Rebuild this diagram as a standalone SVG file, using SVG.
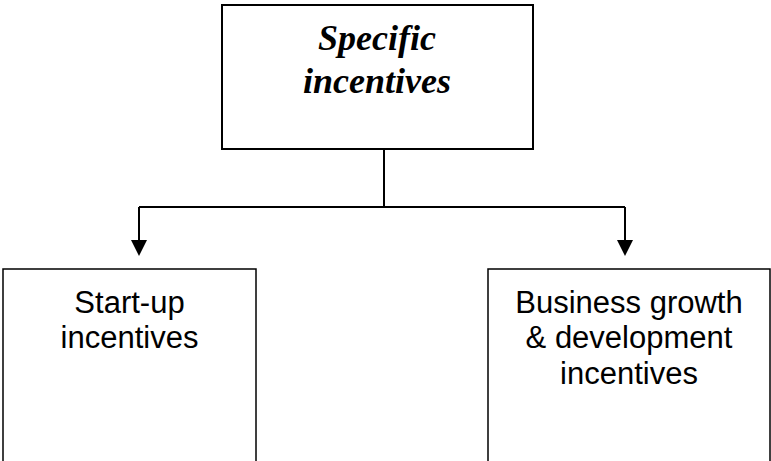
<svg xmlns="http://www.w3.org/2000/svg" width="771" height="461" viewBox="0 0 771 461">
  <style>
    .box { fill: #ffffff; stroke: #000000; stroke-width: 2; }
    .box.thin { stroke-width: 1.5; }
    .wire { fill: none; stroke: #000000; stroke-width: 2; }
    .head { fill: #000000; }
    .title { font-family: "Liberation Serif", "Times New Roman", serif; font-weight: bold; font-style: italic; font-size: 36px; text-anchor: middle; fill: #000; }
    .label { font-family: "Liberation Sans", Arial, sans-serif; font-size: 31px; text-anchor: middle; fill: #000; }
  </style>
  <rect width="771" height="461" fill="#ffffff"/>

  <g id="connectors">
    <path class="wire" d="M384,149 V207"/>
    <path class="wire" d="M139,207 H625"/>
    <path class="wire" d="M139,207 V241"/>
    <path class="wire" d="M625,207 V241"/>
    <path class="head" d="M131,240 L147,240 L139,256 Z"/>
    <path class="head" d="M617,240 L633,240 L625,256 Z"/>
  </g>

  <g id="specific-incentives">
    <rect class="box" x="222" y="5" width="311" height="144"/>
    <text class="title" x="377" y="50">Specific</text>
    <text class="title" x="377" y="93">incentives</text>
  </g>

  <g id="start-up-incentives">
    <rect class="box thin" x="3" y="269" width="253" height="200"/>
    <text class="label" x="129.5" y="313">Start-up</text>
    <text class="label" x="129.5" y="348">incentives</text>
  </g>

  <g id="growth-development-incentives">
    <rect class="box thin" x="488" y="269" width="282" height="200"/>
    <text class="label" x="629" y="313">Business growth</text>
    <text class="label" x="629" y="348">&amp; development</text>
    <text class="label" x="629" y="384">incentives</text>
  </g>
</svg>
